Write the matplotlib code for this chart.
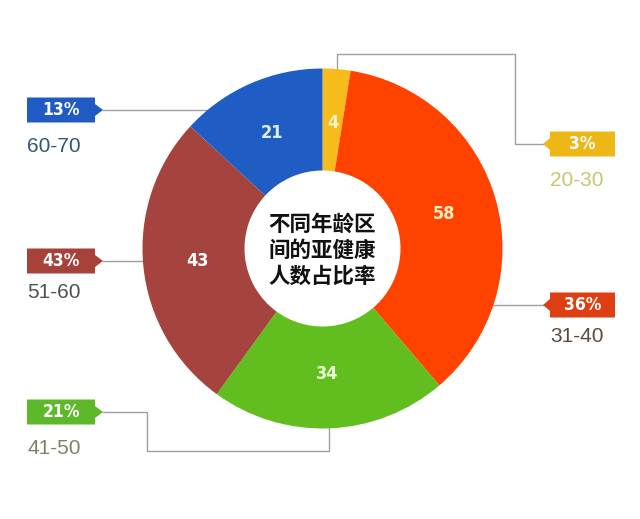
import matplotlib.pyplot as plt
from matplotlib.patches import Polygon

# 数据
groups = ['20-30', '31-40', '41-50', '51-60', '60-70']
counts = [4, 58, 34, 43, 21]
percents = ['3%', '36%', '21%', '43%', '13%']
center_title = '不同年龄区\n间的亚健康\n人数占比率'

wedge_colors = ['#F5BC1C', '#FF4200', '#62BD1E', '#A5443E', '#1F5DC5']
box_colors = ['#EDB817', '#DE3F12', '#5DB82A', '#A6423A', '#1F5BC3']
range_colors = ['#C9C46E', '#5B4A3E', '#7C8466', '#505050', '#2F5877']
number_colors = ['#FFF3C8', '#FFF0C0', '#E8FFD8', '#FFFFFF', '#E0F0FF']

W, H = 640, 519
fig = plt.figure(figsize=(6.4, 5.19), dpi=100)
ax = fig.add_axes([0, 0, 1, 1])


def Y(y):
    # pixel (top-down) -> data (bottom-up)
    return H - y


cx, cy, R, r_in = 322.5, Y(248.5), 180, 78
num_font = dict(family=['DejaVu Sans'], fontstretch='condensed', fontweight='bold')

wedges, texts = ax.pie(counts, colors=wedge_colors, startangle=90, counterclock=False,
                       radius=R, center=(cx, cy), labels=[str(c) for c in counts],
                       labeldistance=0.70,
                       wedgeprops=dict(width=R - r_in, linewidth=0, zorder=3),
                       textprops=dict(zorder=4))
for t, c in zip(texts, number_colors):
    t.set_ha('center')
    t.set_va('center')
    t.set_color(c)
    t.set_fontsize(13)
    t.set_fontweight('bold')
    t.set_fontstretch('condensed')
    t.set_family(['DejaVu Sans'])

ax.text(cx, cy - 2, center_title, ha='center', va='center', fontsize=15.5,
        family=['Noto Sans CJK SC', 'DejaVu Sans'], fontweight='bold',
        color='#111111', linespacing=1.3, zorder=5)

# 标签框: (左/右, 框中心y, 文字y)
label_pos = {
    '20-30': ('right', 144, 180),
    '31-40': ('right', 305, 337),
    '41-50': ('left', 412, 449),
    '51-60': ('left', 261, 293),
    '60-70': ('left', 110, 147),
}
# 引线 (像素坐标)
leaders = {
    '20-30': [(543, 144), (515, 144), (515, 54), (337, 54), (337, 80)],
    '31-40': [(543, 305), (490, 305)],
    '41-50': [(103, 412), (147, 412), (147, 451), (329, 451), (329, 420)],
    '51-60': [(103, 261), (150, 261)],
    '60-70': [(103, 110), (215, 110)],
}

bh = 25
for g, p, bc, rc in zip(groups, percents, box_colors, range_colors):
    side, yc, yt = label_pos[g]
    if side == 'left':
        x0, x1, tip = 27, 95, 103
    else:
        x0, x1, tip = 615, 550, 543
    pts = [(x0, yc - bh / 2), (x1, yc - bh / 2), (x1, yc - 6), (tip, yc),
           (x1, yc + 6), (x1, yc + bh / 2), (x0, yc + bh / 2)]
    ax.add_patch(Polygon([(x, Y(y)) for x, y in pts], closed=True,
                         facecolor=bc, edgecolor='none', zorder=4))
    ax.text((x0 + x1) / 2, Y(yc), p, ha='center', va='center', color='white',
            fontsize=12.5, zorder=5, **num_font)
    tx = 27 if side == 'left' else 550
    ax.text(tx, Y(yt), g, ha='left', va='center', color=rc, fontsize=15,
            family=['Liberation Sans', 'DejaVu Sans'], zorder=5)
    xs = [x for x, y in leaders[g]]
    ys = [Y(y) for x, y in leaders[g]]
    ax.plot(xs, ys, color='#A0A0A0', linewidth=1, zorder=1)

ax.set_xlim(0, W)
ax.set_ylim(0, H)
ax.set_aspect('auto')
ax.axis('off')

fig.savefig('out.png', dpi=100, facecolor='white')
